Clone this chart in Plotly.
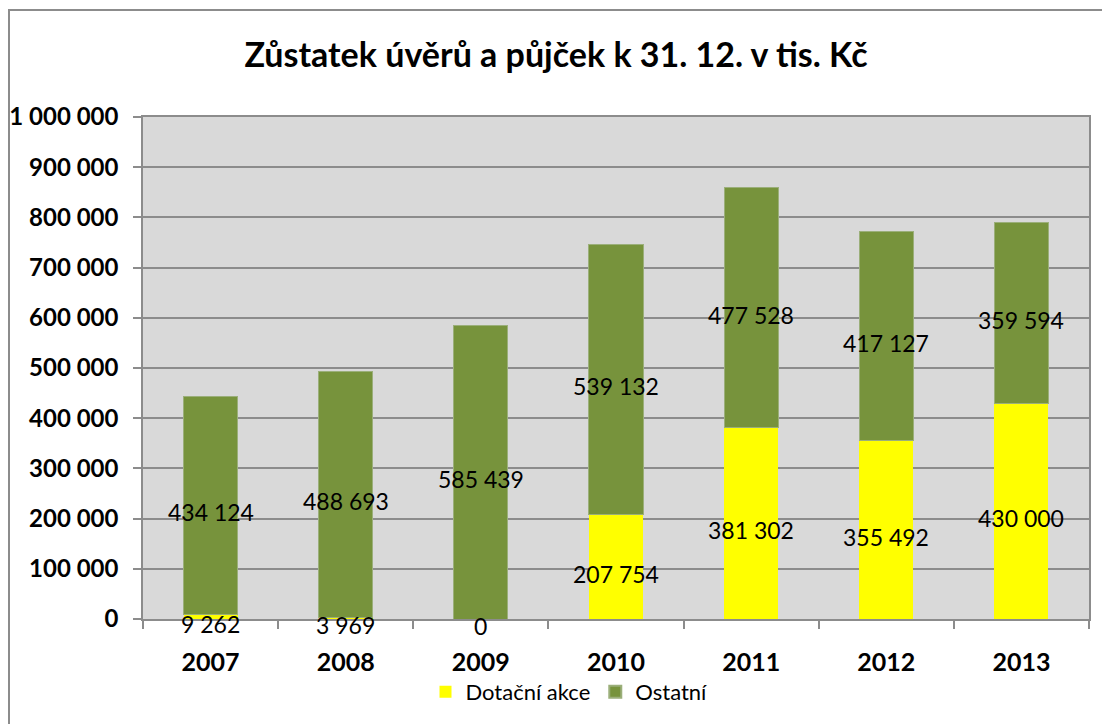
import plotly.graph_objects as go

years = ["2007", "2008", "2009", "2010", "2011", "2012", "2013"]
dotacni = [9262, 3969, 0, 207754, 381302, 355492, 430000]
ostatni = [434124, 488693, 585439, 539132, 477528, 417127, 359594]
y_ticks = [0, 100000, 200000, 300000, 400000, 500000, 600000, 700000, 800000, 900000, 1000000]

FONT = "Lato"
YELLOW = "#FFFF00"
GREEN = "#77933C"
GRID = "#8C8C8C"

def fmt(v):
    return f"{v:,}".replace(",", " ")

fig = go.Figure()
fig.add_bar(x=years, y=dotacni, name="Dotační akce", marker=dict(color=YELLOW, line=dict(width=0)))
fig.add_bar(x=years, y=ostatni, name="Ostatní", marker=dict(color=GREEN, line=dict(color="#9BAF7A", width=1)))

mid_d = [d / 2 for d in dotacni]
mid_o = [d + o / 2 for d, o in zip(dotacni, ostatni)]
# category axis: annotation x given as category index
for ys, vals in ((mid_d, dotacni), (mid_o, ostatni)):
    for i, (y, v) in enumerate(zip(ys, vals)):
        fig.add_annotation(x=i, y=y, xref="x", yref="y", text=fmt(v), showarrow=False,
                           yshift=-7, font=dict(family=FONT, size=23, color="black"))

L, R, T, B = 143, 1089, 117, 619
W, H = R - L, B - T

def px_x(px):
    return (px - L) / W

def px_y(py):
    return (B - py) / H

fig.update_layout(
    width=1102, height=724,
    margin=dict(l=L, r=1102 - R, t=T, b=724 - B, autoexpand=False),
    barmode="stack", bargap=0.6,
    paper_bgcolor="white", plot_bgcolor="#D9D9D9",
    font=dict(family=FONT, color="black"),
    title=dict(text="<b>Zůstatek úvěrů a půjček k 31. 12. v tis. Kč</b>",
               x=556 / 1102, xref="container", xanchor="center", y=1 - 55 / 724, yanchor="middle",
               font=dict(family=FONT, size=34, color="black")),
    legend=dict(orientation="h", x=px_x(569), xanchor="center", y=px_y(692), yanchor="middle",
                font=dict(family=FONT, size=22, color="black"), itemsizing="constant",
                traceorder="normal", bgcolor="rgba(0,0,0,0)"),
    xaxis=dict(type="category", showgrid=False, ticks="outside", tickson="boundaries", ticklen=8,
               tickcolor=GRID, tickwidth=1.5, showline=True, linecolor=GRID, linewidth=1.5, mirror=True,
               tickfont=dict(family=FONT, size=25, color="black"), ticklabelstandoff=20),
    yaxis=dict(range=[0, 1000000], tickvals=y_ticks, ticktext=[f"<b>{fmt(v)}</b>" for v in y_ticks],
               showgrid=True, gridcolor=GRID, gridwidth=1.5, ticks="outside", ticklen=8,
               tickcolor=GRID, tickwidth=1.5, showline=True, linecolor=GRID, linewidth=1.5, mirror=True,
               tickfont=dict(family=FONT, size=24, color="black"), ticklabelstandoff=10, zeroline=False),
)
fig.update_xaxes(tickvals=years, ticktext=[f"<b>{y}</b>" for y in years])

fig.add_shape(type="rect", xref="paper", yref="paper",
              x0=px_x(9), x1=px_x(1120), y0=px_y(10), y1=px_y(740),
              line=dict(color="#8C8C8C", width=2), fillcolor="rgba(0,0,0,0)", layer="below")

fig.write_html("out.html", config={"displayModeBar": False},
               post_script="document.body.style.margin='0';")
